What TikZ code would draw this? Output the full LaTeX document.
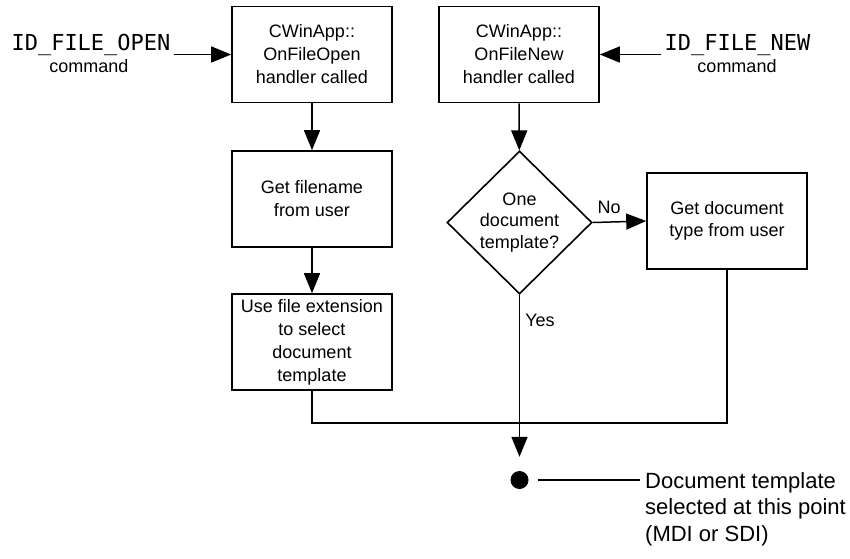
\documentclass[tikz,border=0pt]{standalone}
\usepackage{fontspec}
\setmainfont{Liberation Sans}
\newfontfamily\monofont{DejaVu Sans Mono}
\usetikzlibrary{shapes.geometric,arrows.meta}

\begin{document}
\begin{tikzpicture}[x=1pt,y=-1pt,
  box/.style={draw, line width=1.6pt, minimum width=160pt, minimum height=96pt,
    inner sep=0pt, align=center, font=\fontsize{18}{23}\selectfont},
  decision/.style={draw, diamond, line width=1.6pt, minimum width=145pt,
    minimum height=143pt, inner sep=0pt, align=center,
    font=\fontsize{18}{21.5}\selectfont},
  flow/.style={line width=1.5pt},
  arr/.style={flow, -{Triangle[length=20pt,width=16pt]}},
  mono/.style={font=\monofont\fontsize{22}{26}\selectfont, inner sep=0pt},
  lbl/.style={font=\fontsize{18}{22}\selectfont, inner sep=0pt},
  note/.style={font=\fontsize{22}{26.5}\selectfont, align=left, inner sep=0pt},
]
\useasboundingbox (0,0) rectangle (850,558);

% process boxes and the decision
\node[box] (open)  at (312,54.5) {CWinApp::\\OnFileOpen\\handler called};
\node[box] (new)   at (519,54.5) {CWinApp::\\OnFileNew\\handler called};
\node[box] (fname) at (312,199)  {Get filename\\from user};
\node[box] (ext)   at (312,342)  {Use file extension\\to select\\document\\template};
\node[decision] (one) at (519.5,222.5) {One\\document\\template?};
\node[box, font=\fontsize{18}{21.5}\selectfont] (dtype) at (727,221) {Get document\\type from user};

% selection point
\node[circle, fill, minimum size=18pt, inner sep=0pt] (sel) at (519.5,480) {};

% incoming commands
\node[mono, anchor=base] (idopen) at (91,50) {ID\_FILE\_OPEN};
\node[lbl, anchor=base] (cmdopen) at (89,72) {command};
\node[mono, anchor=base] (idnew) at (737.5,50) {ID\_FILE\_NEW};
\node[lbl, anchor=base] (cmdnew) at (737,72) {command};

% branch labels
\node[lbl] (no)  at (609,207) {No};
\node[lbl] (yes) at (540,320) {Yes};

% explanation of the selection point
\node[note, anchor=north west] (expl) at (645,472)
  {Document template\\selected at this point\\(MDI or SDI)};

% connectors
\draw[arr, shorten <=3pt] (idopen.east |- open.west) -- (open.west);
\draw[arr, shorten <=3pt] (idnew.west |- new.east) -- (new.east);
\draw[arr] (open) -- (fname);
\draw[arr] (fname) -- (ext);
\draw[arr] (new) -- (one);
\draw[arr] (one.east) -- (dtype.west);
\draw[arr, shorten >=14pt] (one.south) -- (sel.north);

\coordinate (join) at (519.5,423);
\draw[flow] (ext.south) |- (join) -| (dtype.south);

\draw[flow, shorten <=9pt, shorten >=5pt] (sel.east) -- (sel.east -| expl.west);
\end{tikzpicture}
\end{document}
